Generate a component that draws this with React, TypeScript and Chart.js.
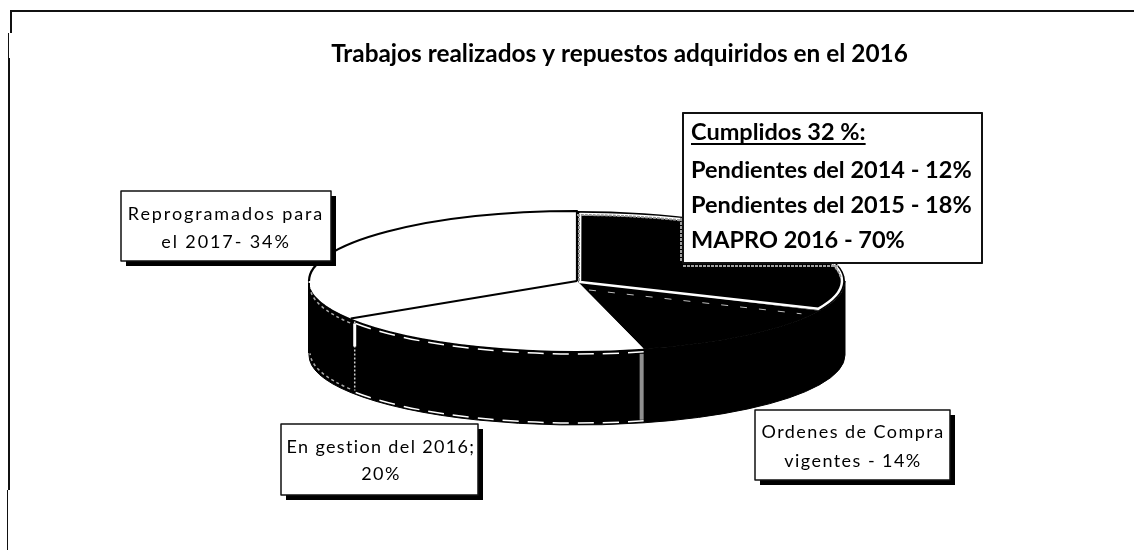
import React, { useEffect, useRef } from "react";
import { Chart, registerables } from "chart.js";

Chart.register(...registerables);

const titleText = "Trabajos realizados y repuestos adquiridos en el 2016";
const sliceLabels = ["Cumplidos", "Ordenes de Compra vigentes", "En gestion del 2016", "Reprogramados para el 2017"];
const sliceValues = [32, 14, 20, 34];
const sliceColors = ["#000000", "#000000", "#ffffff", "#ffffff"];

const cumplidosLines = ["Cumplidos 32 %:", "Pendientes del 2014 - 12%", "Pendientes del 2015 - 18%", "MAPRO 2016 - 70%"];
const ordenesLines = ["Ordenes de Compra", "vigentes - 14%"];
const gestionLines = ["En gestion del 2016;", "20%"];
const reprogramadosLines = ["Reprogramados para", "el 2017- 34%"];

const FONT = "Lato, 'Open Sans', sans-serif";
const CX = 577, CY = 281, RX = 268, RY = 70, DEPTH = 74;

function drawBox(ctx: CanvasRenderingContext2D, x: number, y: number, w: number, h: number, shadow: boolean) {
  if (shadow) {
    ctx.fillStyle = "#000";
    ctx.fillRect(x + 5, y + 5, w, h);
  }
  ctx.fillStyle = "#fff";
  ctx.fillRect(x, y, w, h);
  ctx.strokeStyle = "#111";
  ctx.lineWidth = 1.5;
  ctx.strokeRect(x, y, w, h);
}

function drawLines(
  ctx: CanvasRenderingContext2D,
  lines: string[],
  centerX: number,
  baselines: number[],
  font: string,
  spacing: string
) {
  ctx.fillStyle = "#000";
  ctx.font = font;
  ctx.textAlign = "center";
  ctx.textBaseline = "alphabetic";
  (ctx as any).letterSpacing = spacing;
  lines.forEach((line, i) => ctx.fillText(line, centerX, baselines[i]));
  (ctx as any).letterSpacing = "0px";
}

const pie3d = {
  id: "pie3d",
  beforeDraw(chart: any) {
    const ctx = chart.ctx as CanvasRenderingContext2D;
    ctx.save();
    ctx.fillStyle = "#fff";
    ctx.fillRect(0, 0, chart.width, chart.height);
    ctx.fillStyle = "#111";
    ctx.fillRect(10, 10, chart.width - 10, 2);
    ctx.fillRect(10, 11, 2, 22);
    ctx.fillRect(8, 58, 2, 432);
    ctx.fillRect(8, 33, 1, 25);
    ctx.fillRect(7, 490, 1, 60);
    ctx.restore();
  },
  beforeDatasetsDraw(chart: any) {
    const ctx = chart.ctx as CanvasRenderingContext2D;
    const arcs = chart.getDatasetMeta(0).data;
    ctx.save();
    ctx.fillStyle = "#000";
    ctx.strokeStyle = "#000";
    ctx.lineWidth = 1;
    arcs.forEach((arc: any) => {
      const a0 = Math.max(arc.startAngle, 0);
      const a1 = Math.min(arc.endAngle, Math.PI);
      if (a1 <= a0) return;
      ctx.beginPath();
      ctx.ellipse(CX, CY, RX, RY, 0, a0, a1);
      ctx.ellipse(CX, CY + DEPTH, RX, RY, 0, a1, a0, true);
      ctx.closePath();
      ctx.fill();
      ctx.stroke();
    });
    ctx.restore();
    const first = arcs[0];
    ctx.save();
    ctx.translate(CX, CY);
    ctx.scale(RX / first.outerRadius, RY / first.outerRadius);
    ctx.translate(-first.x, -first.y);
  },
  afterDatasetsDraw(chart: any) {
    const ctx = chart.ctx as CanvasRenderingContext2D;
    ctx.restore();
    const arcs = chart.getDatasetMeta(0).data;
    const [done, orders, managed, moved] = arcs;
    ctx.save();
    ctx.lineJoin = "round";

    // white slices: black outlines
    ctx.strokeStyle = "#000";
    ctx.lineWidth = 2.2;
    ctx.beginPath();
    ctx.moveTo(CX, CY);
    ctx.lineTo(CX + RX * Math.cos(moved.startAngle), CY + RY * Math.sin(moved.startAngle));
    ctx.stroke();
    ctx.beginPath();
    ctx.ellipse(CX, CY, RX, RY, 0, Math.PI, moved.endAngle);
    ctx.lineTo(CX, CY);
    ctx.stroke();

    // light inner edge of the first slice
    const inset = 3;
    ctx.beginPath();
    ctx.moveTo(CX + inset, CY + 1);
    ctx.ellipse(CX, CY, RX - inset, RY - inset, 0, done.startAngle + 0.012, done.endAngle - 0.012);
    ctx.closePath();
    ctx.strokeStyle = "#ffffff";
    ctx.lineWidth = 2.5;
    ctx.stroke();
    ctx.strokeStyle = "#9a9a9a";
    ctx.setLineDash([3, 1]);
    ctx.lineWidth = 2;
    ctx.beginPath();
    ctx.ellipse(CX, CY, RX - inset - 1, RY - inset - 1, 0, done.startAngle, -0.05);
    ctx.stroke();
    ctx.beginPath();
    ctx.moveTo(CX + 2, CY);
    ctx.lineTo(CX + 2, CY - RY + 3);
    ctx.stroke();
    ctx.setLineDash([]);

    // dashes under the rim of the first slice
    ctx.strokeStyle = "#bdbdbd";
    ctx.lineWidth = 1;
    ctx.setLineDash([7, 12]);
    ctx.beginPath();
    ctx.moveTo(CX + 12, CY + 9);
    ctx.lineTo(CX + RX * Math.cos(orders.startAngle) - 18, CY + RY * Math.sin(orders.startAngle) + 3);
    ctx.stroke();

    // side of the third slice: grey edge and broken light rims
    const a0 = managed.startAngle, a1 = Math.min(managed.endAngle, Math.PI);
    ctx.setLineDash([16, 9]);
    ctx.strokeStyle = "#fff";
    ctx.lineWidth = 1.5;
    ctx.beginPath();
    ctx.ellipse(CX, CY + 3, RX, RY, 0, a0, a1);
    ctx.stroke();
    ctx.beginPath();
    ctx.ellipse(CX, CY + DEPTH - 2, RX, RY, 0, a0, a1);
    ctx.stroke();
    ctx.setLineDash([]);
    const ex = CX + RX * Math.cos(a0);
    const ey = CY + RY * Math.sin(a0);
    ctx.strokeStyle = "#8f8f8f";
    ctx.lineWidth = 4;
    ctx.beginPath();
    ctx.moveTo(ex - 2, ey + 5);
    ctx.lineTo(ex - 2, ey + DEPTH - 3);
    ctx.stroke();
    const lx = CX + RX * Math.cos(a1);
    const ly = CY + RY * Math.sin(a1);
    ctx.strokeStyle = "#d0d0d0";
    ctx.lineWidth = 1.5;
    ctx.setLineDash([2, 2]);
    ctx.beginPath();
    ctx.moveTo(lx + 4, ly + 3);
    ctx.lineTo(lx + 4, ly + DEPTH - 2);
    ctx.stroke();
    ctx.setLineDash([]);
    ctx.strokeStyle = "#fff";
    ctx.lineWidth = 3;
    ctx.beginPath();
    ctx.moveTo(lx + 4, ly + 5);
    ctx.lineTo(lx + 4, ly + 28);
    ctx.stroke();

    // side of the last slice: grey rims
    ctx.strokeStyle = "#aaaaaa";
    ctx.lineWidth = 1.5;
    ctx.setLineDash([3, 3]);
    ctx.beginPath();
    ctx.ellipse(CX, CY + 5, RX - 1, RY, 0, a1 + 0.01, Math.PI - 0.02);
    ctx.stroke();
    ctx.beginPath();
    ctx.ellipse(CX, CY + DEPTH - 3, RX - 1, RY, 0, a1 + 0.01, Math.PI - 0.02);
    ctx.stroke();
    ctx.setLineDash([]);
    ctx.fillStyle = "#000";
    ctx.fillRect(CX - RX - 1, CY + 2, 2, DEPTH - 4);

    // label boxes
    drawBox(ctx, 121, 191, 210, 70, true);
    drawLines(ctx, reprogramadosLines, 226, [220, 248], `18px ${FONT}`, "1.9px");
    drawBox(ctx, 281, 424, 197, 71, true);
    drawLines(ctx, gestionLines, 381, [453, 480], `18px ${FONT}`, "1.35px");
    drawBox(ctx, 755, 410, 195, 70, true);
    drawLines(ctx, ordenesLines, 853, [438, 467], `18px ${FONT}`, "1.45px");

    ctx.strokeStyle = "#a0a0a0";
    ctx.lineWidth = 2;
    ctx.setLineDash([3, 1]);
    ctx.beginPath();
    ctx.moveTo(683, 266);
    ctx.lineTo(838, 266);
    ctx.stroke();
    ctx.beginPath();
    ctx.moveTo(681, 218);
    ctx.lineTo(681, 262);
    ctx.stroke();
    ctx.setLineDash([]);

    drawBox(ctx, 683, 113, 299, 150, false);
    ctx.strokeStyle = "#111";
    ctx.lineWidth = 2;
    ctx.strokeRect(683, 113, 299, 150);
    ctx.fillStyle = "#000";
    ctx.font = `bold 23.5px ${FONT}`;
    ctx.textAlign = "left";
    ctx.textBaseline = "alphabetic";
    const cbases = [140, 178, 213, 248];
    cumplidosLines.forEach((l, i) => ctx.fillText(l, 691, cbases[i]));
    const uw = ctx.measureText(cumplidosLines[0]).width;
    ctx.fillRect(691, 143, uw, 2);
    ctx.restore();
  },
};

export default function App() {
  const ref = useRef<HTMLCanvasElement>(null);
  useEffect(() => {
    document.body.style.margin = "0";
    const chart = new Chart(ref.current!, {
      type: "pie",
      data: {
        labels: sliceLabels,
        datasets: [{ data: sliceValues, backgroundColor: sliceColors, borderWidth: 0 }],
      },
      options: {
        responsive: false,
        animation: false,
        layout: { padding: { left: 105 } },
        plugins: {
          legend: { display: false },
          tooltip: { enabled: false },
          title: {
            display: true,
            text: titleText,
            fullSize: false,
            color: "#000",
            font: { family: FONT, size: 24.4, weight: "bold" },
            padding: { top: 40, bottom: 10 },
          },
        },
      },
      plugins: [pie3d],
    } as any);
    return () => chart.destroy();
  }, []);
  return (
    <div style={{ position: "absolute", left: 0, top: 0, width: 1134, height: 550 }}>
      <canvas ref={ref} width={1134} height={550} style={{ display: "block" }} />
    </div>
  );
}
